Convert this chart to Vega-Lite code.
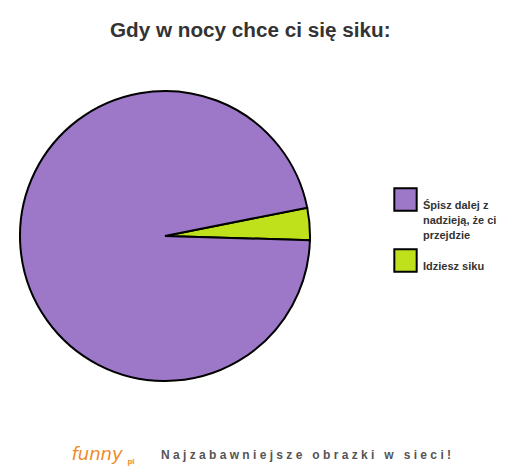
{
  "$schema": "https://vega.github.io/schema/vega-lite/v6.json",
  "padding": {"top": 20, "left": 0, "right": 0, "bottom": 0},
  "background": "white",
  "title": {
    "text": "Gdy w nocy chce ci się siku:",
    "anchor": "start",
    "offset": 44,
    "dx": 110,
    "font": "Liberation Sans Narrow, Liberation Sans",
    "fontSize": 20.7,
    "fontWeight": "bold",
    "color": "#333333"
  },
  "datasets": {
    "pie": [
      {"answer": "Idziesz siku", "share": 3.6, "rank": 1},
      {"answer": "Śpisz dalej z nadzieją, że ci przejdzie", "share": 96.4, "rank": 2}
    ],
    "footer": [
      {"part": "logo", "label": "funny"},
      {"part": "pl", "label": "pl"},
      {"part": "slogan", "label": "N a j z a b a w n i e j s z e \u00a0 o b r a z k i \u00a0 w \u00a0 s i e c i !"}
    ]
  },
  "vconcat": [
    {
      "width": 330,
      "height": 300,
      "data": {"name": "pie"},
      "mark": {"type": "arc", "radius": 145, "stroke": "black", "strokeWidth": 2},
      "encoding": {
        "theta": {
          "field": "share",
          "type": "quantitative",
          "stack": true,
          "scale": {"range": [1.374, 7.657]}
        },
        "order": {"field": "rank", "type": "quantitative"},
        "color": {
          "field": "answer",
          "type": "nominal",
          "scale": {
            "domain": ["Śpisz dalej z nadzieją, że ci przejdzie", "Idziesz siku"],
            "range": ["#9d78c9", "#bfe11c"]
          },
          "legend": {
            "title": null,
            "orient": "none",
            "legendX": 393,
            "legendY": 101,
            "symbolType": "square",
            "symbolSize": 500,
            "symbolStrokeColor": "black",
            "symbolStrokeWidth": 2,
            "symbolOpacity": 1,
            "labelFont": "Liberation Sans Narrow, Liberation Sans",
            "labelFontSize": 11,
            "labelFontWeight": "bold",
            "labelColor": "#333333",
            "labelOffset": 5,
            "labelLimit": 200,
            "labelBaseline": "top",
            "rowPadding": 4,
            "labelExpr": "datum.label == 'Idziesz siku' ? datum.label : ['Śpisz dalej z', 'nadzieją, że ci', 'przejdzie']"
          }
        }
      }
    },
    {
      "width": 330,
      "height": 30,
      "data": {"name": "footer"},
      "layer": [
        {
          "transform": [{"filter": "datum.part == 'slogan'"}],
          "mark": {"type": "text", "dx": 141, "font": "Liberation Sans, Arial", "fontSize": 12, "fontWeight": "bold", "color": "#555555"},
          "encoding": {"text": {"field": "label"}}
        },
        {
          "transform": [{"filter": "datum.part == 'logo'"}],
          "mark": {"type": "text", "dx": -68, "font": "DejaVu Sans", "fontSize": 18, "fontStyle": "italic", "color": "#f08a24"},
          "encoding": {"text": {"field": "label"}}
        },
        {
          "transform": [{"filter": "datum.part == 'pl'"}],
          "mark": {"type": "text", "dx": -34, "dy": 7, "fontSize": 8, "fontWeight": "bold", "color": "#f08a24"},
          "encoding": {"text": {"field": "label"}}
        }
      ]
    }
  ],
  "spacing": 54,
  "config": {
    "view": {"stroke": null},
    "style": {"guide-label": {"lineHeight": 15}}
  }
}
